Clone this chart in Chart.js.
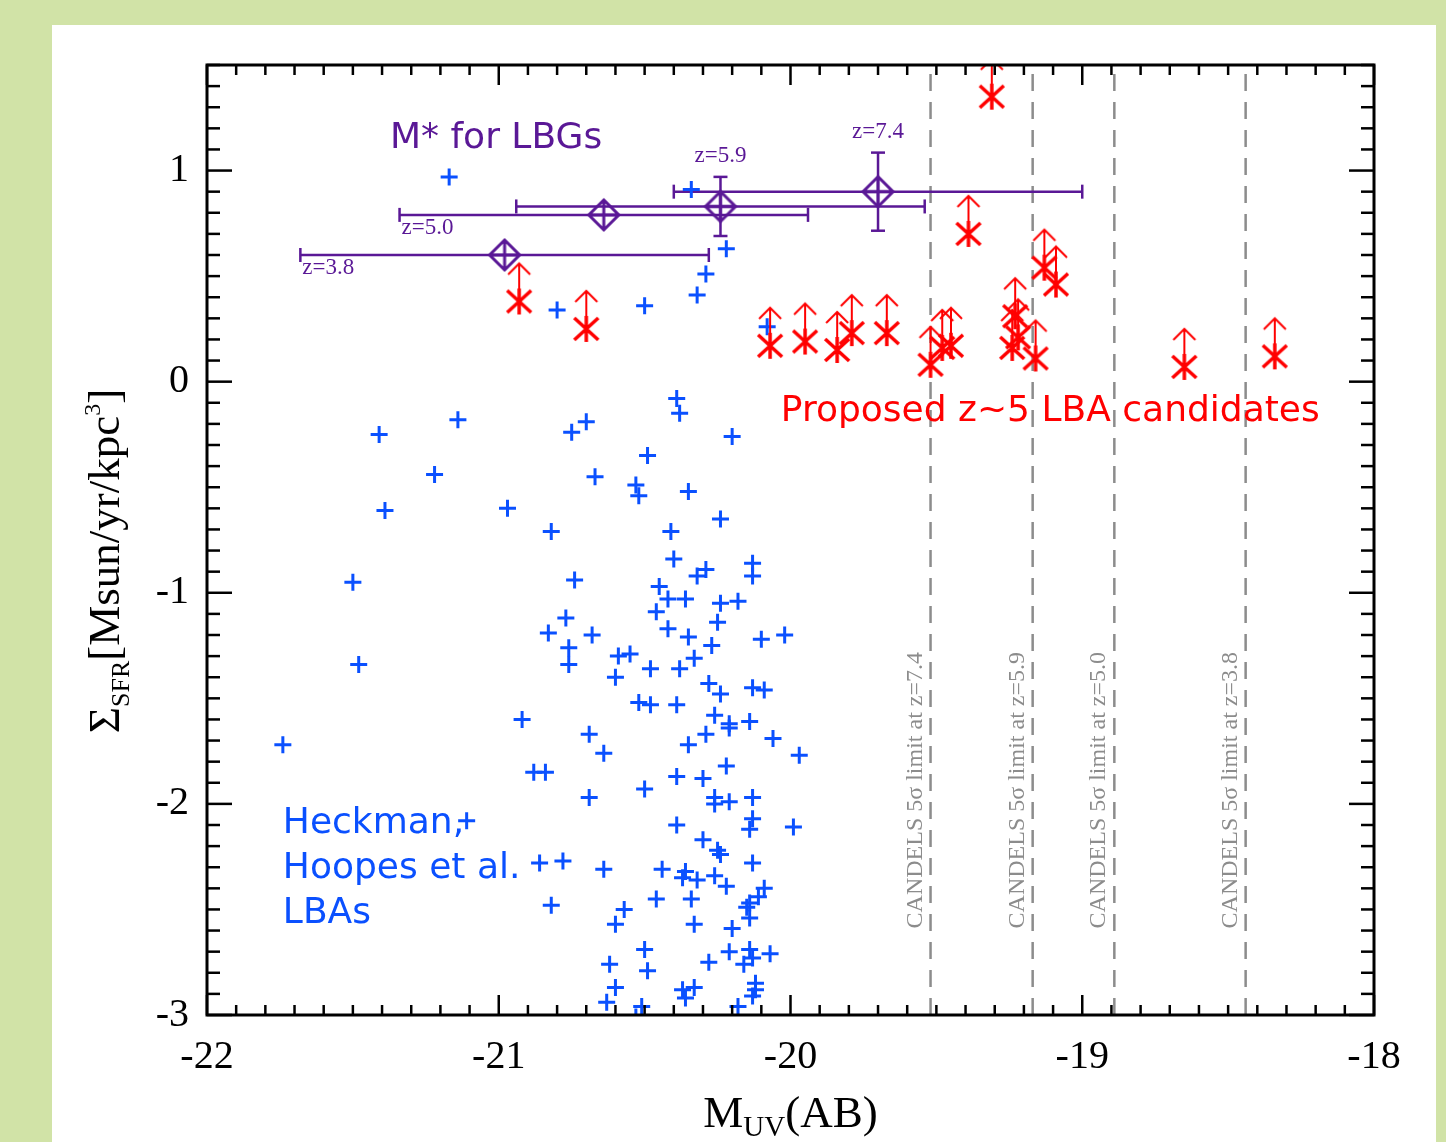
<!DOCTYPE html>
<html>
<head>
<meta charset="utf-8">
<script src="https://cdn.jsdelivr.net/npm/chart.js@4.4.1/dist/chart.umd.min.js"></script>
<style>
  html, body { margin: 0; padding: 0; background: #d1e3a7; overflow: hidden; }
  #panel { position: absolute; left: 52px; top: 25px; width: 1384px; height: 1200px; background: #fff; }
  #chart { position: absolute; left: 0; top: 0; }
</style>
</head>
<body>
<div id="panel"></div>
<canvas id="chart" width="1446" height="1142"></canvas>
<script>
// --- axis ticks ---
const xTicks = [-22, -21, -20, -19, -18];
const yTicks = [-3, -2, -1, 0, 1];

// --- Heckman / Hoopes et al. LBAs (blue crosses) ---
const lbaX = [-21.17, -20.34, -20.22, -20.29, -20.32, -20.50, -20.80, -20.08,
  -20.39, -20.38, -21.41, -21.14, -20.75, -20.70, -20.20, -20.49, -21.22, -20.67, -20.53, -20.52,
  -20.35, -21.39, -20.97, -20.24, -20.82, -20.41, -20.40, -20.29, -20.32, -20.13, -20.13, -21.50,
  -20.74, -20.45, -20.42, -20.36, -20.24, -20.18, -20.46, -20.25, -20.77, -20.83, -20.68, -20.42,
  -20.35, -20.10, -20.02, -20.76, -20.76, -20.59, -20.55, -21.48, -20.27, -20.33, -20.48, -20.38,
  -20.60, -20.28, -20.24, -20.13, -20.09, -20.52, -20.48, -20.39, -20.92, -20.26, -20.21, -20.14,
  -20.69, -20.29, -20.21, -20.64, -20.35, -20.06, -19.97, -21.74, -20.22, -20.88, -20.84, -20.39,
  -20.30, -20.69, -20.50, -20.26, -20.26, -20.21, -20.13, -20.13, -20.14, -19.99, -20.39, -20.30,
  -20.25, -20.24, -21.11, -20.86, -20.78, -20.13, -20.64, -20.44, -20.36, -20.37, -20.32, -20.26,
  -20.22, -20.09, -20.11, -20.14, -20.15, -20.82, -20.46, -20.34, -20.57, -20.60, -20.33, -20.20,
  -20.14, -20.50, -20.21, -20.14, -20.13, -20.16, -20.07, -20.49, -20.28, -20.62, -20.60, -20.37,
  -20.33, -20.36, -20.12, -20.12, -20.13, -20.63, -20.51, -20.18, -20.53, -20.30, -20.15, -21.07];
const lbaY = [0.97, 0.91, 0.63, 0.51, 0.41, 0.36, 0.34, 0.26,
  -0.08, -0.15, -0.25, -0.18, -0.24, -0.19, -0.26, -0.35, -0.44, -0.45, -0.49, -0.54,
  -0.52, -0.61, -0.60, -0.65, -0.71, -0.71, -0.84, -0.89, -0.92, -0.86, -0.92, -0.95,
  -0.94, -0.97, -1.03, -1.03, -1.05, -1.04, -1.09, -1.14, -1.12, -1.19, -1.20, -1.17,
  -1.21, -1.22, -1.20, -1.26, -1.34, -1.30, -1.29, -1.34, -1.25, -1.31, -1.36, -1.36,
  -1.40, -1.43, -1.48, -1.45, -1.46, -1.52, -1.53, -1.53, -1.60, -1.58, -1.62, -1.61,
  -1.67, -1.67, -1.64, -1.76, -1.72, -1.69, -1.77, -1.72, -1.82, -1.85, -1.85, -1.87,
  -1.88, -1.97, -1.93, -1.97, -2.00, -1.99, -1.97, -2.07, -2.12, -2.11, -2.10, -2.17,
  -2.22, -2.24, -2.08, -2.28, -2.27, -2.28, -2.31, -2.31, -2.32, -2.35, -2.36, -2.34,
  -2.39, -2.40, -2.44, -2.47, -2.49, -2.48, -2.45, -2.45, -2.50, -2.57, -2.57, -2.59,
  -2.54, -2.69, -2.70, -2.69, -2.73, -2.76, -2.71, -2.79, -2.75, -2.76, -2.87, -2.88,
  -2.87, -2.92, -2.85, -2.88, -2.91, -2.94, -2.96, -2.96, -3.01, -3.04, -3.04, -3.04];

// --- proposed z~5 LBA candidates (red, lower limits) ---
const candX = [-20.93, -20.70, -20.07, -19.95, -19.84, -19.79, -19.67, -19.52, -19.48, -19.45,
  -19.39, -19.31, -19.23, -19.22, -19.24, -19.16, -19.13, -19.09, -18.65, -18.34];
const candY = [0.38, 0.25, 0.17, 0.19, 0.15, 0.23, 0.23, 0.08, 0.16, 0.17,
  0.70, 1.35, 0.31, 0.21, 0.16, 0.11, 0.54, 0.46, 0.07, 0.12];

// --- M* for LBGs ---
const mstarZ = ['z=3.8', 'z=5.0', 'z=5.9', 'z=7.4'];
const mstarX = [-20.98, -20.64, -20.24, -19.70];
const mstarY = [0.60, 0.79, 0.83, 0.90];
const mstarXerr = [0.70, 0.70, 0.70, 0.70];
const mstarYerr = [0, 0, 0.14, 0.185];

// --- CANDELS 5 sigma limits ---
const limitZ = ['z=7.4', 'z=5.9', 'z=5.0', 'z=3.8'];
const limitX = [-19.52, -19.17, -18.89, -18.44];

const BLUE = '#0a50ff', RED = '#ff0000', PURPLE = '#5a1896', GRAY = '#8c8c8c';
const SERIF = '"Liberation Serif", "Times New Roman", serif';
const SANS = '"DejaVu Sans", Verdana, sans-serif';

// red asterisk with an upward arrow (lower limit)
function starArrow() {
  const c = document.createElement('canvas');
  c.width = 36; c.height = 100;
  const g = c.getContext('2d');
  const cx = 18, cy = 50;
  g.strokeStyle = RED; g.lineCap = 'butt';
  g.lineWidth = 3.5;
  g.beginPath();
  g.moveTo(cx, cy - 13); g.lineTo(cx, cy + 13);
  g.moveTo(cx - 12, cy - 11); g.lineTo(cx + 12, cy + 11);
  g.moveTo(cx - 12, cy + 11); g.lineTo(cx + 12, cy - 11);
  g.stroke();
  g.lineWidth = 2;
  g.beginPath();
  g.moveTo(cx, cy - 13); g.lineTo(cx, cy - 38);
  g.moveTo(cx - 11, cy - 27); g.lineTo(cx, cy - 38); g.lineTo(cx + 11, cy - 27);
  g.stroke();
  return c;
}

// purple diamond with a cross inside
function diamond() {
  const c = document.createElement('canvas');
  c.width = 40; c.height = 40;
  const g = c.getContext('2d');
  g.strokeStyle = PURPLE; g.lineWidth = 3;
  g.beginPath();
  g.moveTo(20, 5); g.lineTo(35, 20); g.lineTo(20, 35); g.lineTo(5, 20); g.closePath();
  g.moveTo(20, 5); g.lineTo(20, 35);
  g.moveTo(5, 20); g.lineTo(35, 20);
  g.stroke();
  return c;
}

function seg(ctx, x1, y1, x2, y2) {
  ctx.beginPath(); ctx.moveTo(x1, y1); ctx.lineTo(x2, y2); ctx.stroke();
}

const decor = {
  id: 'decor',
  beforeDatasetsDraw(chart) {
    const { ctx, chartArea: a, scales: { x, y } } = chart;
    ctx.save();
    ctx.beginPath();
    ctx.rect(a.left, a.top, a.right - a.left, a.bottom - a.top);
    ctx.clip();

    // dashed detection limits
    ctx.strokeStyle = GRAY; ctx.lineWidth = 2.5;
    ctx.setLineDash([17, 11]);
    limitX.forEach(v => {
      const px = x.getPixelForValue(v);
      seg(ctx, px, a.bottom, px, a.top);
    });
    ctx.setLineDash([]);
    ctx.fillStyle = GRAY;
    ctx.font = '24px ' + SERIF;
    ctx.textAlign = 'left'; ctx.textBaseline = 'alphabetic';
    limitX.forEach((v, i) => {
      ctx.save();
      ctx.translate(x.getPixelForValue(v) - 9, y.getPixelForValue(-2.59));
      ctx.rotate(-Math.PI / 2);
      ctx.fillText('CANDELS 5\u03c3 limit at ' + limitZ[i], 0, 0);
      ctx.restore();
    });

    // M* error bars
    ctx.strokeStyle = PURPLE; ctx.lineWidth = 2.5;
    mstarX.forEach((v, i) => {
      const px = x.getPixelForValue(v), py = y.getPixelForValue(mstarY[i]);
      const x0 = x.getPixelForValue(v - mstarXerr[i]), x1 = x.getPixelForValue(v + mstarXerr[i]);
      seg(ctx, x0, py, x1, py);
      seg(ctx, x0, py - 7, x0, py + 7);
      seg(ctx, x1, py - 7, x1, py + 7);
      if (mstarYerr[i] > 0) {
        const y0 = y.getPixelForValue(mstarY[i] + mstarYerr[i]);
        const y1 = y.getPixelForValue(mstarY[i] - mstarYerr[i]);
        seg(ctx, px, y0, px, y1);
        seg(ctx, px - 7, y0, px + 7, y0);
        seg(ctx, px - 7, y1, px + 7, y1);
      }
    });
    ctx.fillStyle = PURPLE;
    ctx.font = '23px ' + SERIF;
    mstarX.forEach((v, i) => {
      if (mstarYerr[i] > 0) {
        ctx.textAlign = 'center';
        ctx.fillText(mstarZ[i], x.getPixelForValue(v), y.getPixelForValue(mstarY[i] + mstarYerr[i]) - 15);
      } else {
        ctx.textAlign = 'left';
        ctx.fillText(mstarZ[i], x.getPixelForValue(v - mstarXerr[i]) + 2, y.getPixelForValue(mstarY[i]) + 19);
      }
    });
    ctx.restore();
  },
  afterDatasetsDraw(chart) {
    const { ctx, scales: { x, y } } = chart;
    ctx.save();
    ctx.font = '36px ' + SANS;
    ctx.textAlign = 'left'; ctx.textBaseline = 'alphabetic';
    ctx.fillStyle = PURPLE;
    ctx.fillText('M* for LBGs', x.getPixelForValue(-21.373), y.getPixelForValue(1.109));
    ctx.fillStyle = RED;
    ctx.fillText('Proposed z~5 LBA candidates', x.getPixelForValue(-20.033), y.getPixelForValue(-0.185));
    ctx.fillStyle = BLUE;
    const hx = x.getPixelForValue(-21.74);
    ['Heckman,', 'Hoopes et al.', 'LBAs'].forEach((t, i) => {
      ctx.fillText(t, hx, y.getPixelForValue(-2.137) + i * 45);
    });
    ctx.restore();
  },
  afterDraw(chart) {
    const { ctx, chartArea: a, scales: { x, y } } = chart;
    ctx.save();
    ctx.strokeStyle = '#000';
    ctx.lineWidth = 2.5;
    for (let k = -220; k <= -180; k++) {
      const px = x.getPixelForValue(k / 10);
      const len = k % 10 === 0 ? 20 : 10;
      seg(ctx, px, a.bottom, px, a.bottom - len);
      seg(ctx, px, a.top, px, a.top + len);
    }
    for (let k = -30; k <= 15; k++) {
      const py = y.getPixelForValue(k / 10);
      const len = k % 10 === 0 ? 25 : 13;
      seg(ctx, a.left, py, a.left + len, py);
      seg(ctx, a.right, py, a.right - len, py);
    }
    ctx.lineWidth = 3;
    ctx.strokeRect(a.left, a.top, a.right - a.left, a.bottom - a.top);

    // x title: M_UV(AB)
    ctx.fillStyle = '#000';
    ctx.textBaseline = 'alphabetic'; ctx.textAlign = 'left';
    const big = '45px ' + SERIF, small = '29px ' + SERIF;
    ctx.font = big; const wM = ctx.measureText('M').width, wAB = ctx.measureText('(AB)').width;
    ctx.font = small; const wUV = ctx.measureText('UV').width;
    let sx = (a.left + a.right) / 2 - (wM + wUV + wAB) / 2;
    const by = a.bottom + 112;
    ctx.font = big; ctx.fillText('M', sx, by); sx += wM;
    ctx.font = small; ctx.fillText('UV', sx, by + 9); sx += wUV;
    ctx.font = big; ctx.fillText('(AB)', sx, by);

    // y title: Sigma_SFR[Msun/yr/kpc^3]
    const parts = [
      ['\u03a3', big, 0], ['SFR', '26px ' + SERIF, 10], ['[Msun/yr/kpc', big, 0],
      ['3', '24px ' + SERIF, -19], [']', big, 0]
    ];
    let total = 0;
    parts.forEach(p => { ctx.font = p[1]; p.push(ctx.measureText(p[0]).width); total += p[3]; });
    ctx.translate(a.left - 88, a.top + 496);
    ctx.rotate(-Math.PI / 2);
    let tx = -total / 2;
    parts.forEach(p => { ctx.font = p[1]; ctx.fillText(p[0], tx, p[2]); tx += p[3]; });
    ctx.restore();
  }
};

const xy = (xs, ys) => xs.map((v, i) => ({ x: v, y: ys[i] }));

new Chart(document.getElementById('chart'), {
  type: 'scatter',
  data: {
    datasets: [
      {
        label: 'M* for LBGs',
        data: xy(mstarX, mstarY),
        pointStyle: diamond(),
        pointRadius: 15,
        clip: 0
      },
      {
        label: 'Proposed z~5 LBA candidates',
        data: xy(candX, candY),
        pointStyle: starArrow(),
        pointRadius: 13,
        clip: 0
      },
      {
        label: 'Heckman, Hoopes et al. LBAs',
        data: xy(lbaX, lbaY),
        pointStyle: 'cross',
        pointRadius: 8.5,
        borderWidth: 3,
        borderColor: BLUE,
        backgroundColor: BLUE,
        clip: 0
      }
    ]
  },
  options: {
    responsive: false,
    animation: false,
    layout: { padding: { left: 0, top: 65, right: 72, bottom: 0 } },
    plugins: { legend: { display: false }, tooltip: { enabled: false } },
    scales: {
      x: {
        type: 'linear', min: -22, max: -18,
        afterBuildTicks: s => { s.ticks = xTicks.map(v => ({ value: v })); },
        afterFit: s => { s.height = 127; },
        grid: { display: false, drawTicks: false },
        border: { display: false },
        ticks: { color: '#000', padding: 18, font: { family: 'Liberation Serif', size: 40 } }
      },
      y: {
        type: 'linear', min: -3, max: 1.5,
        afterBuildTicks: s => { s.ticks = yTicks.map(v => ({ value: v })); },
        afterFit: s => { s.width = 207; },
        grid: { display: false, drawTicks: false },
        border: { display: false },
        ticks: { color: '#000', padding: 18, font: { family: 'Liberation Serif', size: 40 } }
      }
    }
  },
  plugins: [decor]
});
</script>
</body>
</html>
